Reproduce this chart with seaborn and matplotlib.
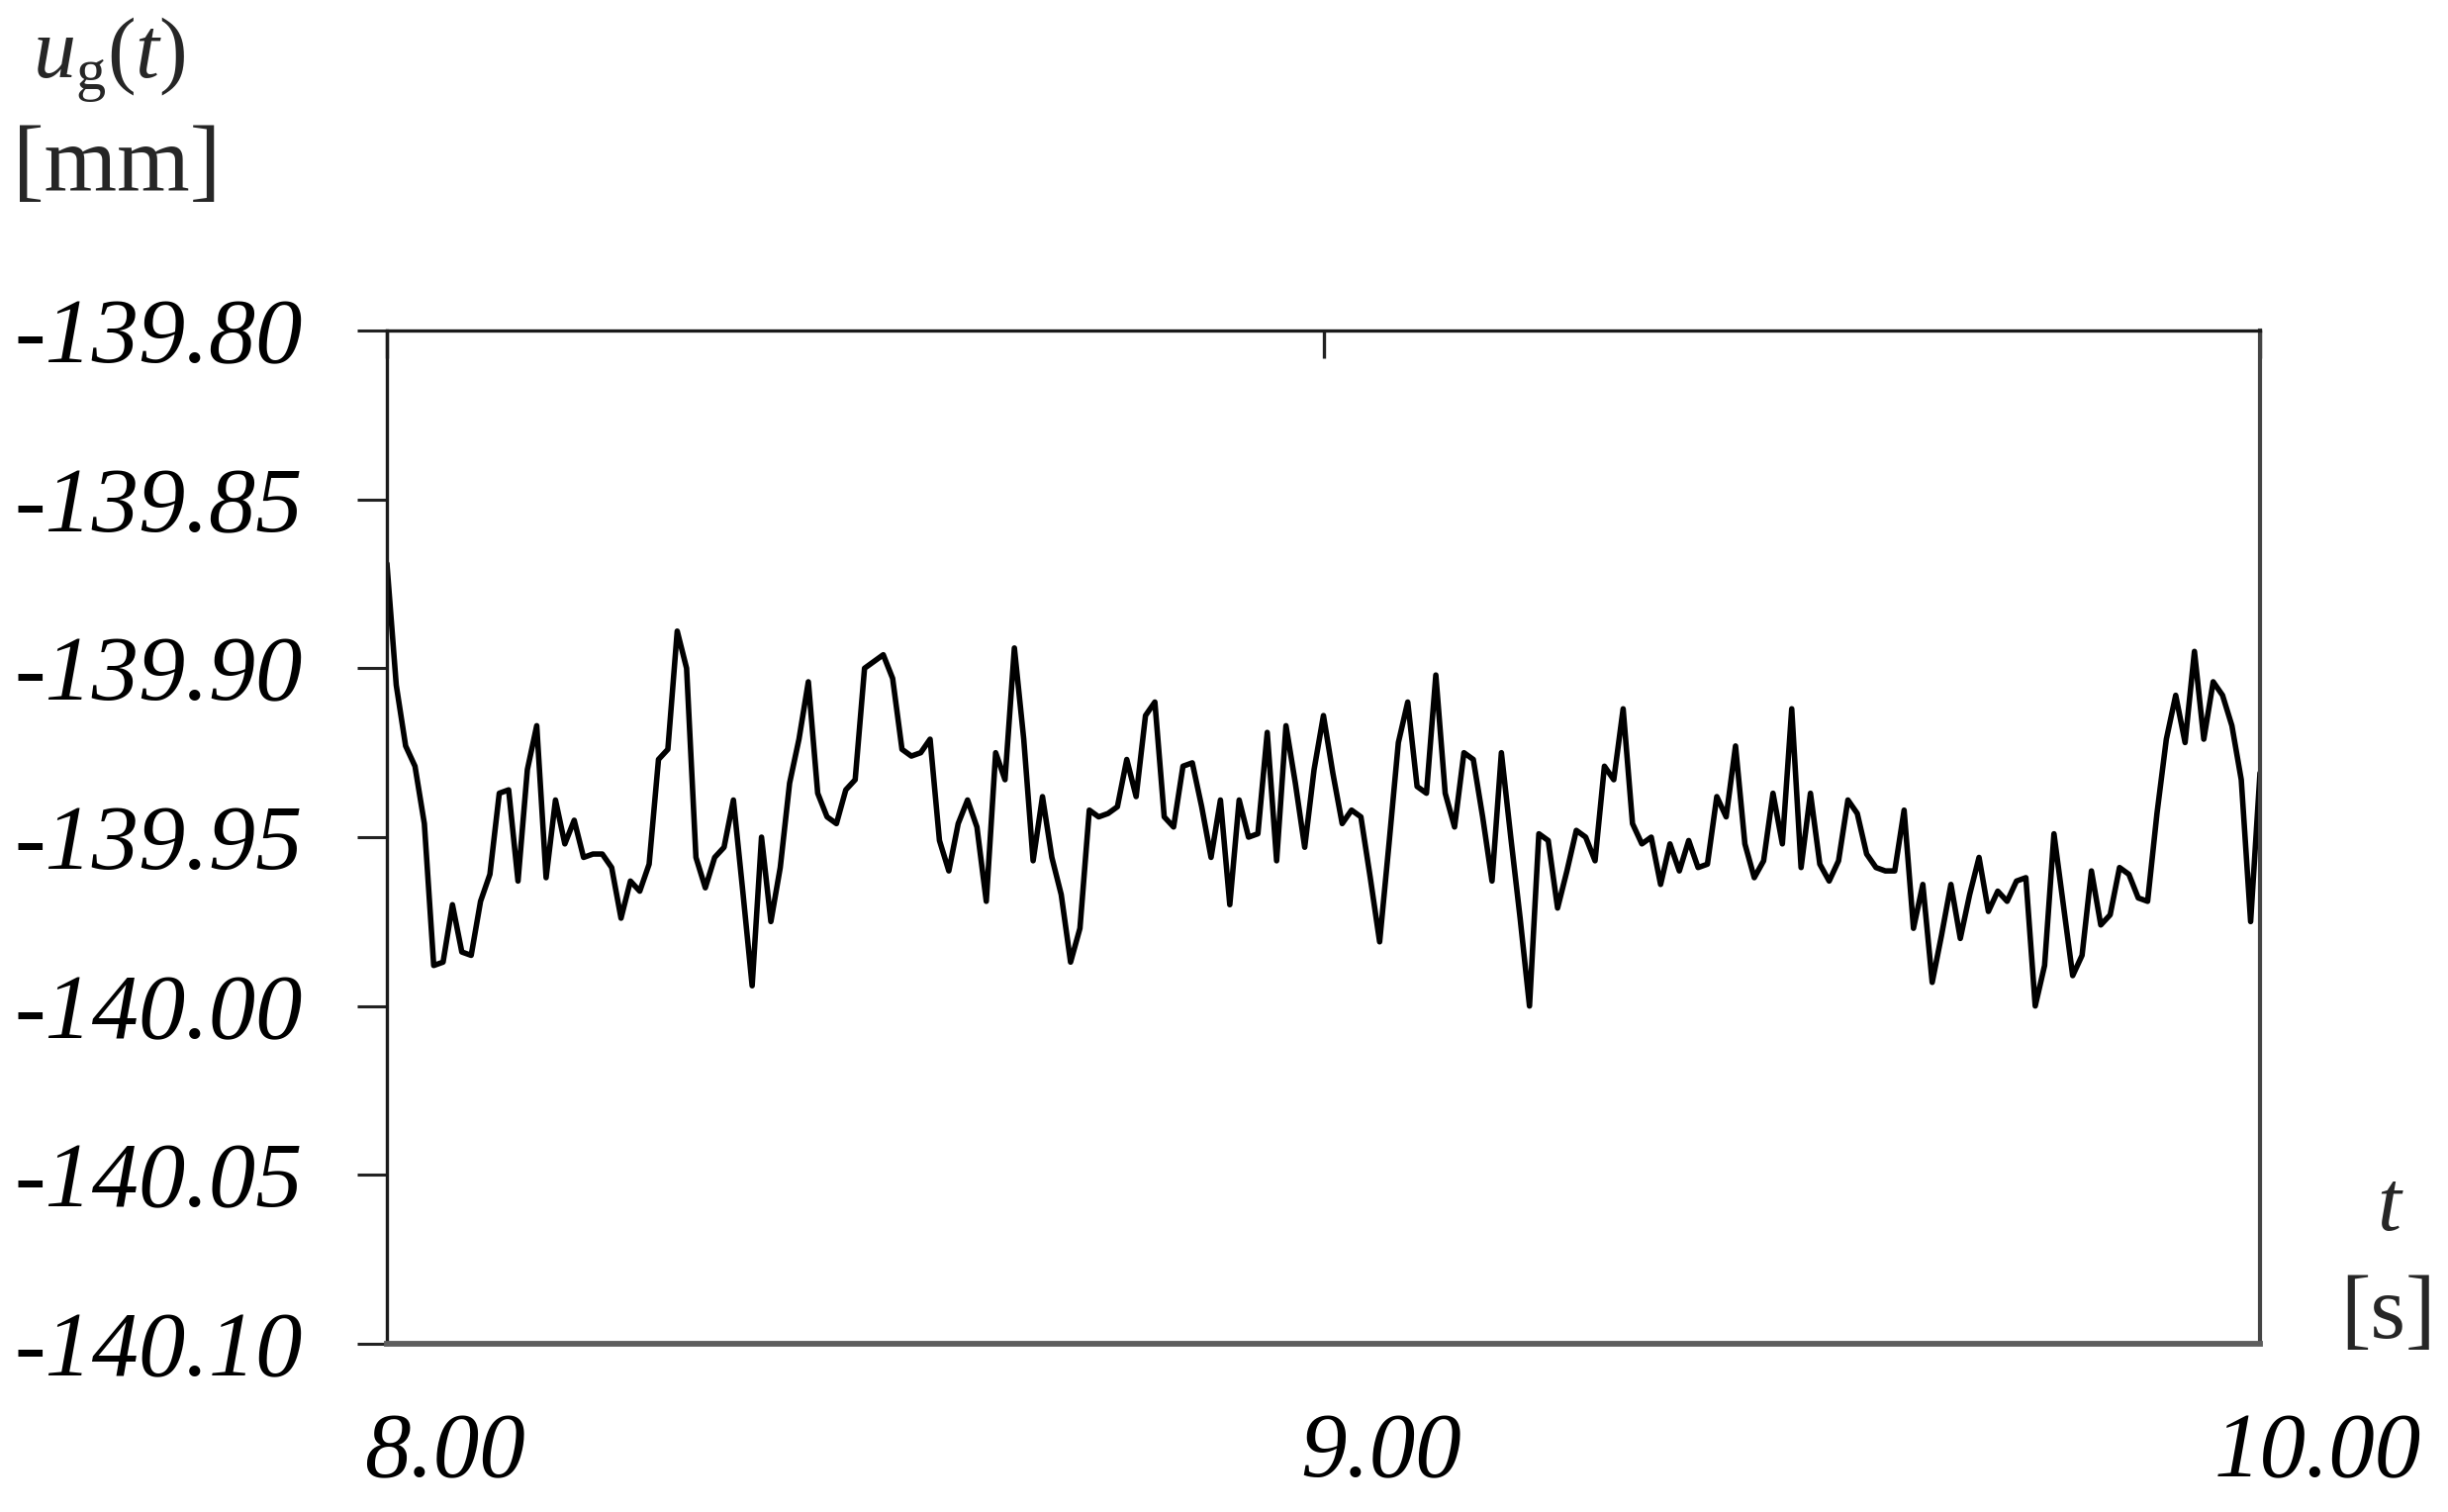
import numpy as np
import pandas as pd
import seaborn as sns
import matplotlib
matplotlib.use("Agg")
import matplotlib.pyplot as plt
from matplotlib.ticker import FormatStrFormatter
from matplotlib.transforms import ScaledTranslation

# --- data: ground displacement u_g(t), sampled every 0.01 s from 8.00 s to 10.00 s ---
T_START = 8.00
T_STEP = 0.01

U_G = [
    -139.869, -139.905, -139.923, -139.929, -139.946, -139.988, -139.987, -139.970, -139.984, -139.985,
    -139.969, -139.961, -139.937, -139.936, -139.963, -139.930, -139.917, -139.962, -139.939, -139.952,
    -139.945, -139.956, -139.955, -139.955, -139.959, -139.974, -139.963, -139.966, -139.958, -139.927,
    -139.924, -139.889, -139.900, -139.956, -139.965, -139.956, -139.953, -139.939, -139.966, -139.994,
    -139.950, -139.975, -139.959, -139.934, -139.921, -139.904, -139.937, -139.944, -139.946, -139.936,
    -139.933, -139.900, -139.898, -139.896, -139.903, -139.924, -139.926, -139.925, -139.921, -139.951,
    -139.960, -139.946, -139.939, -139.947, -139.969, -139.925, -139.933, -139.894, -139.921, -139.957,
    -139.938, -139.956, -139.967, -139.987, -139.977, -139.942, -139.944, -139.943, -139.941, -139.927,
    -139.938, -139.914, -139.910, -139.944, -139.947, -139.929, -139.928, -139.941, -139.956, -139.939,
    -139.970, -139.939, -139.950, -139.949, -139.919, -139.957, -139.917, -139.934, -139.953, -139.930,
    -139.914, -139.931, -139.946, -139.942, -139.944, -139.962, -139.981, -139.952, -139.922, -139.910,
    -139.935, -139.937, -139.902, -139.937, -139.947, -139.925, -139.927, -139.944, -139.963, -139.925,
    -139.950, -139.974, -140.000, -139.949, -139.951, -139.971, -139.960, -139.948, -139.950, -139.957,
    -139.929, -139.933, -139.912, -139.946, -139.952, -139.950, -139.964, -139.952, -139.960, -139.951,
    -139.959, -139.958, -139.938, -139.944, -139.923, -139.952, -139.962, -139.957, -139.937, -139.952,
    -139.912, -139.959, -139.937, -139.958, -139.963, -139.957, -139.939, -139.943, -139.955, -139.959,
    -139.960, -139.960, -139.942, -139.977, -139.964, -139.993, -139.979, -139.964, -139.980, -139.967,
    -139.956, -139.972, -139.966, -139.969, -139.963, -139.962, -140.000, -139.988, -139.949, -139.970,
    -139.991, -139.985, -139.960, -139.976, -139.973, -139.959, -139.961, -139.968, -139.969, -139.943,
    -139.921, -139.908, -139.922, -139.895, -139.921, -139.904, -139.908, -139.917, -139.933, -139.975,
    -139.931,
]

X_TICKS = [8.00, 9.00, 10.00]
Y_TICKS = [-140.10, -140.05, -140.00, -139.95, -139.90, -139.85, -139.80]

T = np.round(T_START + T_STEP * np.arange(len(U_G)), 2)
df = pd.DataFrame({"t": T, "u_g": U_G})

# --- style ---
sns.set_style("white")
plt.rcParams["font.family"] = ["Liberation Serif", "DejaVu Serif"]
plt.rcParams["axes.unicode_minus"] = False
plt.rcParams["mathtext.fontset"] = "custom"
plt.rcParams["mathtext.rm"] = "Liberation Serif"
plt.rcParams["mathtext.it"] = "Liberation Serif:italic"

W, H = 2474, 1528
fig = plt.figure(figsize=(W / 100, H / 100), dpi=100)
ax = fig.add_axes([391 / W, 1 - 1358 / H, (2284 - 391) / W, (1358 - 334) / H])

sns.lineplot(data=df, x="t", y="u_g", ax=ax, color="black", linewidth=4.0)

ax.set_xlim(8.0, 10.0)
ax.set_ylim(-140.10, -139.80)
ax.set_xticks(X_TICKS)
ax.set_yticks(Y_TICKS)
ax.xaxis.set_major_formatter(FormatStrFormatter("%.2f"))
ax.yaxis.set_major_formatter(FormatStrFormatter("%.2f"))
ax.set_xlabel("")
ax.set_ylabel("")

# ticks: y outward on the left, x only as an inward tick on the top border
ax.tick_params(axis="y", left=True, right=False, direction="out", length=21.5, width=2.2,
               color="#222222", pad=40, labelsize=68, labelcolor="black")
ax.tick_params(axis="x", top=True, bottom=False, labeltop=False, labelbottom=True,
               direction="in", length=20, width=2.4, color="#222222",
               pad=50, labelsize=67, labelcolor="black")
for lab in ax.get_yticklabels() + ax.get_xticklabels():
    lab.set_fontstyle("italic")
for lab in ax.get_xticklabels():
    lab.set_transform(lab.get_transform() + ScaledTranslation(0.58, 0, fig.dpi_scale_trans))

ax.spines["top"].set_color("#1a1a1a")
ax.spines["top"].set_linewidth(2.4)
ax.spines["left"].set_color("#1a1a1a")
ax.spines["left"].set_linewidth(2.4)
ax.spines["right"].set_color("#444444")
ax.spines["right"].set_linewidth(3.0)
ax.spines["bottom"].set_color("#5e5e5e")
ax.spines["bottom"].set_linewidth(4.2)

# axis titles placed like in the original figure
fig.text(110 / W, 1 - 60 / H, r"$u_{\mathrm{g}}\mathit{(t)}$", fontsize=62,
         ha="center", va="center")
fig.text(118 / W, 1 - 170 / H, "[mm]", fontsize=68, ha="center", va="center")
fig.text(2414 / W, 1 - 1222 / H, "t", fontsize=62, fontstyle="italic",
         ha="center", va="center")
fig.text(2414 / W, 1 - 1330 / H, "[s]", fontsize=66, ha="center", va="center")

fig.savefig("out.png", dpi=100, facecolor="white")
